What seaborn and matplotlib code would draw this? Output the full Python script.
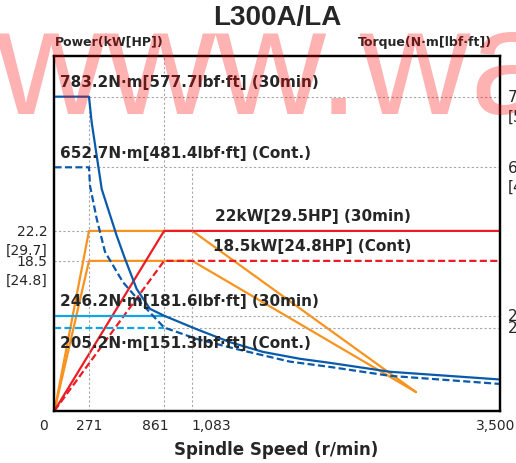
import numpy as np
import pandas as pd
import matplotlib
matplotlib.use("Agg")
import matplotlib.pyplot as plt
import seaborn as sns

# spindle speed ticks (r/min)
speed_ticks = [0, 271, 861, 1083, 3500]
speed_labels = ["0", "271", "861", "1,083", "3,500"]

# power output (kW)
pw_30_speed = [0, 861, 3500]
pw_30 = [0, 22.2, 22.2]
pw_cont_speed = [0, 861, 3500]
pw_cont = [0, 18.5, 18.5]
pw_low30_speed = [0, 271, 1083, 2840]
pw_low30 = [0, 22.2, 22.2, 2.3]
pw_lowcont_speed = [0, 271, 1083, 2840]
pw_lowcont = [0, 18.5, 18.5, 2.3]

# torque (N·m)
tq_30_speed = [0, 271, 292, 371, 489, 554, 646, 750, 861, 1117, 1379, 1638, 1929, 2164, 2636, 3500]
tq_30 = [783.2, 783.2, 736, 593, 465, 402, 319, 265, 246.2, 201, 169, 145, 128, 118, 96, 77]
tq_cont_speed = [0, 271, 279, 332, 397, 538, 672, 861, 1117, 1457, 1850, 2164, 2636, 3500]
tq_cont = [652.7, 652.7, 602, 511, 421, 338, 284, 205.2, 177, 150, 121, 108, 86, 66]
tq_high_speed = [0, 861]
tq_high30 = [246.2, 246.2]
tq_highcont = [205.2, 205.2]

power_ticks = [22.2, 18.5]
power_hp = ["[29.7]", "[24.8]"]
torque_ticks = [783.2, 652.7, 246.2, 205.2]
torque_lbf = ["[577.7]", "[481.4]", "", ""]

# the torque axis of the drawing is not linear: anchor points of the scale
tq_anchor = [-1000, 0, 205.2, 246.2, 652.7, 783.2, 2000]
px_anchor = [-405.5, 0, 83.2, 95, 243.4, 314, 972]


def tq_fwd(t):
    return np.interp(t, tq_anchor, px_anchor)


def tq_inv(h):
    return np.interp(h, px_anchor, tq_anchor)


BLUE = "#0a5aab"
CYAN = "#10a6e6"
ORANGE = "#f7931e"
RED = "#ec1c24"
GRID = "#a6a6a6"

sns.set_theme(style="white")
plt.rcParams["font.family"] = ["DejaVu Sans"]

fig = plt.figure(figsize=(5.16, 4.64), dpi=100)
ax = fig.add_axes([0.1056, 0.1127, 0.8634, 0.7645])
ax2 = ax.twinx()
ax2.set_yscale("function", functions=(tq_fwd, tq_inv))

ax.set_xlim(0, 3500)
ax.set_ylim(0, 43.8)
ax2.set_ylim(0, tq_inv(354.7))

dot = dict(color=GRID, lw=0.8, ls=(0, (2, 2)), zorder=1)
ax2.vlines(271, 0, 783.2, **dot)
ax.vlines(861, 0, 43.8, **dot)
ax2.vlines(1083, 0, 652.7, **dot)
ax.hlines(power_ticks, 0, 271, **dot)
ax2.hlines([783.2, 652.7], 271, 3500, **dot)
ax2.hlines([246.2, 205.2], 861, 3500, **dot)

lw = 1.6
dash = (0, (3.2, 1.5))
sns.lineplot(x=pw_low30_speed, y=pw_low30, ax=ax, color=ORANGE, lw=lw, sort=False, estimator=None)
sns.lineplot(x=pw_lowcont_speed, y=pw_lowcont, ax=ax, color=ORANGE, lw=lw, sort=False, estimator=None)
sns.lineplot(x=pw_30_speed, y=pw_30, ax=ax, color=RED, lw=lw, sort=False, estimator=None)
sns.lineplot(x=pw_cont_speed, y=pw_cont, ax=ax, color=RED, lw=lw, ls=dash, sort=False, estimator=None)

sns.lineplot(x=tq_high_speed, y=tq_high30, ax=ax2, color=CYAN, lw=lw, sort=False, estimator=None)
sns.lineplot(x=tq_high_speed, y=tq_highcont, ax=ax2, color=CYAN, lw=lw, ls=dash, sort=False, estimator=None)
sns.lineplot(x=tq_30_speed, y=tq_30, ax=ax2, color=BLUE, lw=lw, sort=False, estimator=None)
sns.lineplot(x=tq_cont_speed, y=tq_cont, ax=ax2, color=BLUE, lw=lw, ls=dash, sort=False, estimator=None)

for a in (ax, ax2):
    a.set_xticks([])
    a.set_yticks([])
    a.set_xlabel("")
    a.set_ylabel("")
    for s in a.spines.values():
        s.set_color("black")
        s.set_linewidth(1.6)

# axis tick labels, placed as in the drawing
xt = ax.get_xaxis_transform()
xpos = [-90, 271, 795, 1075, 3620]
xha = ["center", "center", "center", "left", "right"]
for v, lab, ha in zip(xpos, speed_labels, xha):
    ax.text(v, -0.04, lab, transform=xt, ha=ha, va="center", fontsize=10)

for v, hp in zip(power_ticks, power_hp):
    ax.annotate(f"{v}", (0, v), xytext=(-5, 0), textcoords="offset points",
                ha="right", va="center", fontsize=10, annotation_clip=False)
    ax.annotate(hp, (0, v), xytext=(-5, -14), textcoords="offset points",
                ha="right", va="center", fontsize=10, annotation_clip=False)

for v, lb in zip(torque_ticks, torque_lbf):
    ax2.annotate(f"{v}", (3500, v), xytext=(5.5, 0), textcoords="offset points",
                 ha="left", va="center", fontsize=11, annotation_clip=False)
    if lb:
        ax2.annotate(lb, (3500, v), xytext=(5.5, -14), textcoords="offset points",
                     ha="left", va="center", fontsize=11, annotation_clip=False)

# curve labels
bold = dict(fontsize=11, fontweight="bold", va="center", ha="left")
ax2.annotate("783.2N·m[577.7lbf·ft] (30min)", (0, 783.2), xytext=(4, 11), textcoords="offset points", **bold)
ax2.annotate("652.7N·m[481.4lbf·ft] (Cont.)", (0, 652.7), xytext=(4, 11), textcoords="offset points", **bold)
ax.annotate("22kW[29.5HP] (30min)", (1083, 22.2), xytext=(16, 11), textcoords="offset points", **bold)
ax.annotate("18.5kW[24.8HP] (Cont)", (1083, 18.5), xytext=(15, 11), textcoords="offset points", **bold)
ax2.annotate("246.2N·m[181.6lbf·ft] (30min)", (0, 246.2), xytext=(4, 11), textcoords="offset points", **bold)
ax2.annotate("205.2N·m[151.3lbf·ft] (Cont.)", (0, 205.2), xytext=(4, -11), textcoords="offset points", **bold)

fig.text(0.537, 0.961, "L300A/LA", ha="center", va="center", fontsize=20,
         fontweight="bold", family=["Liberation Sans"])
fig.text(0.1056, 0.909, "Power(kW[HP])", ha="left", va="center", fontsize=9, fontweight="bold")
fig.text(0.954, 0.909, "Torque(N·m[lbf·ft])", ha="right", va="center", fontsize=9, fontweight="bold")
fig.text(0.536, 0.03, "Spindle Speed (r/min)", ha="center", va="center", fontsize=12, fontweight="bold")

# watermark
fig.text(-0.01, 0.992, "www.wa", ha="left", va="top", fontsize=110, color="red",
         alpha=0.3, zorder=100, family=["Liberation Sans"])

fig.savefig("out.png", dpi=100)
